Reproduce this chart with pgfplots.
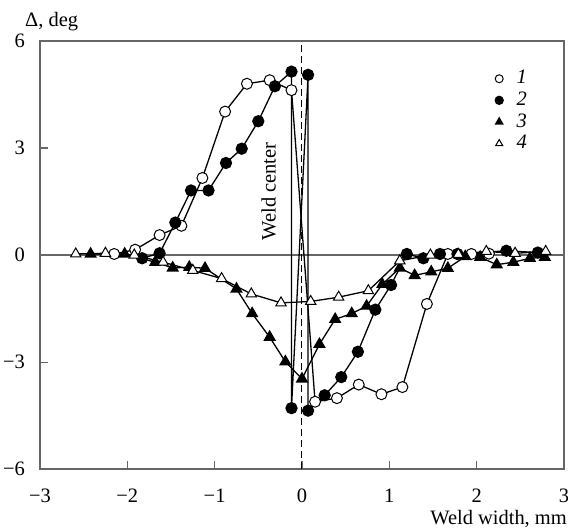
\documentclass[border=0pt]{standalone}
\usepackage{fontspec}
\setmainfont{Liberation Serif}
\usepackage{pgfplots}
\pgfplotsset{compat=1.18}

\definecolor{axisgray}{gray}{0.4}

\begin{document}
\fontsize{20.5}{24}\selectfont
\begin{tikzpicture}
\begin{axis}[
    scale only axis, width=525pt, height=429pt,
    xmin=-3, xmax=3, ymin=-6, ymax=6,
    xtick={-3,...,3}, xticklabels={−3,−2,−1,0,1,2,3},
    ytick={-6,-3,0,3,6}, yticklabels={−6,−3,0,3,\raisebox{-7pt}{6}},
    tick align=inside, tick pos=left, major tick length=8pt,
    axis line style={axisgray, line width=1.4pt},
    tick style={axisgray, line width=1.2pt},
    xticklabel style={yshift=-13pt},
    yticklabel style={xshift=-8pt},
    every axis x label/.style={at={(axis description cs:1,0)}, anchor=north east,
        inner sep=0pt, yshift=-41pt, xshift=3pt},
    every axis y label/.style={at={(axis description cs:0,1)}, anchor=base west,
        inner sep=0pt, yshift=14pt, xshift=-15pt},
    xlabel={Weld width, mm},
    ylabel={Δ, deg},
    legend style={draw=none, fill=none, at={(axis cs:2.21,5.22)}, anchor=north west,
        inner sep=0pt, nodes={inner sep=1.5pt}, row sep=2pt, column sep=12pt,
        cells={anchor=west}},
    legend image code/.code={\draw[#1, mark size=4pt] plot[only marks] coordinates {(0cm,0cm)};},
    every axis plot/.append style={black, line width=1.3pt},
]
\addplot[forget plot, axisgray, line width=1.2pt] coordinates {(-3,0) (3,0)};
\addplot[forget plot, black, line width=1pt, dash pattern=on 7pt off 4pt] coordinates {(0,-6) (0,6)};

% 1: open circles
\addplot[mark=*, mark size=5.5pt, mark options={fill=white, line width=1pt}] coordinates {
(-2.15,0.03) (-1.91,0.15) (-1.63,0.56) (-1.38,0.82) (-1.14,2.16) (-0.88,4.02)
(-0.63,4.80) (-0.37,4.90) (-0.12,4.62) (0.15,-4.11) (0.40,-4.01) (0.65,-3.63)
(0.91,-3.90) (1.15,-3.70) (1.43,-1.37) (1.67,0.03) (1.94,0.03) (2.14,0.04)
};
\addlegendentry{\textit{1}}

% 2: filled circles
\addplot[mark=*, mark size=5.5pt, mark options={fill=black}] coordinates {
(-1.83,-0.09) (-1.63,0.05) (-1.45,0.91) (-1.27,1.81) (-1.07,1.81) (-0.87,2.58)
(-0.69,2.98) (-0.50,3.75) (-0.31,4.73) (-0.12,5.14) (-0.12,-4.29) (0.07,5.05)
(0.07,-4.36) (0.26,-3.93) (0.45,-3.42) (0.64,-2.71) (0.84,-1.53) (1.02,-0.84)
(1.20,0.03) (1.39,-0.09) (1.58,0.03) (1.78,0.03) (2.34,0.12) (2.70,0.07)
};
\addlegendentry{\textit{2}}

% 3: filled triangles
\addplot[mark=triangle*, mark size=6pt, mark options={fill=black}] coordinates {
(-2.42,0.03) (-2.03,0.03) (-1.68,-0.20) (-1.48,-0.36) (-1.29,-0.34) (-1.11,-0.37)
(-0.75,-0.95) (-0.57,-1.64) (-0.37,-2.30) (-0.19,-2.99) (0.00,-3.47) (0.20,-2.50)
(0.38,-1.80) (0.57,-1.64) (0.74,-1.43) (0.92,-0.82) (1.12,-0.36) (1.29,-0.57)
(1.48,-0.47) (1.67,-0.37) (1.87,-0.04) (2.04,-0.06) (2.23,-0.27) (2.42,-0.20)
(2.61,-0.09) (2.78,-0.06)
};
\addlegendentry{\textit{3}}

% 4: open triangles
\addplot[mark=triangle*, mark size=6pt, mark options={fill=white, line width=1pt}] coordinates {
(-2.59,0.03) (-2.25,0.05) (-1.92,0.00) (-1.59,-0.20) (-1.25,-0.43) (-0.92,-0.66)
(-0.58,-1.09) (-0.24,-1.34) (0.10,-1.30) (0.42,-1.18) (0.76,-1.00) (1.12,-0.16)
(1.47,0.00) (1.79,0.02) (2.11,0.10) (2.44,0.05) (2.79,0.10)
};
\addlegendentry{\textit{4}}

\node[rotate=90] at (axis cs:-0.38,1.78) {Weld center};
\end{axis}
\pgfresetboundingbox
\path ([shift={(-40pt,-60pt)}]current axis.south west) rectangle ([shift={(4pt,41pt)}]current axis.north east);
\end{tikzpicture}
\end{document}
